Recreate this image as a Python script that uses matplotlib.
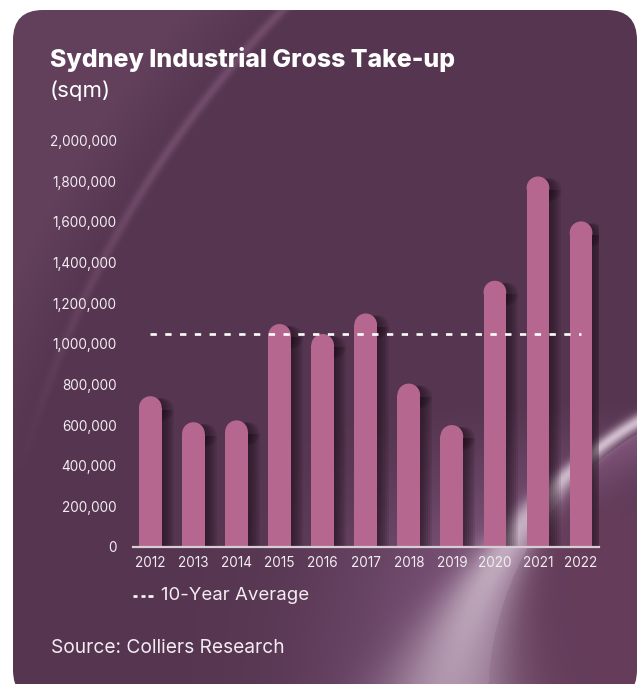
import numpy as np
import matplotlib
matplotlib.use("Agg")
import matplotlib.pyplot as plt
from matplotlib import colors as mcolors
from matplotlib import transforms
from matplotlib.patches import FancyBboxPatch, Rectangle, Ellipse
from matplotlib.lines import Line2D

plt.rcParams['font.family'] = ['Inter', 'DejaVu Sans']

# Gross take-up (sqm) by year
years = ['2012', '2013', '2014', '2015', '2016', '2017',
         '2018', '2019', '2020', '2021', '2022']
take_up = [742000, 614000, 623000, 1097000, 1048000, 1149000,
           804000, 600000, 1310000, 1823000, 1602000]
ten_year_avg = 1050000
y_ticks = [0, 200000, 400000, 600000, 800000, 1000000,
           1200000, 1400000, 1600000, 1800000, 2000000]

W, H = 637, 684
BAR_COLOR = '#b5678f'
TEXT_COLOR = '#f3ecf1'

fig = plt.figure(figsize=(W / 100, H / 100), dpi=100)
fig.patch.set_facecolor('white')


def rgb(h):
    return np.array(mcolors.to_rgb(h))


# ---- card background ----
yy, xx = np.mgrid[0:H, 0:W] + 0.5
base = rgb('#553550')
img = np.ones((H, W, 3)) * base

# soft lighter area beyond the sweeping arc on the upper left
d1 = np.hypot(xx - 1050, yy - 750) - 1066
img += np.clip(d1 / 70, 0, 1)[..., None] * (rgb('#62405b') - base)
streak = np.exp(-(d1 / 5) ** 2) * np.clip((480 - yy) / 320, 0, 1)
img += streak[..., None] * (rgb('#714b6a') - base)

# glowing ribbon at the lower right
d2 = np.hypot(xx - 800, yy - 700) - 312
t = np.clip((yy - 440) / 240, 0, 1)
sig = 7 + 52 * t ** 1.5
outside = np.clip(d2, 0, None)
halo = np.exp(-(outside / 160) ** 2) * np.clip((yy - 400) / 140, 0, 1) * (d2 > 0)
img += halo[..., None] * (rgb('#7c5479') - base)
upper = np.exp(-(np.clip(-d2, 0, None) / 40) ** 2) * np.clip((520 - yy) / 80, 0, 1) * (d2 < 0)
img += upper[..., None] * (rgb('#7a5276') - base)
inside = (d2 < 0) * np.clip((yy - 420) / 100, 0, 1)
img += inside[..., None] * (rgb('#673e5d') - base) * 0.9
beam = np.exp(-((d2 - 10 - 28 * t ** 1.5) / sig) ** 2)
beam_col = (1 - t)[..., None] * rgb('#d0bccd') + t[..., None] * rgb('#b097ad')
img = img * (1 - beam[..., None]) + beam_col * beam[..., None]
img = np.clip(img, 0, 1)

bg = fig.add_axes([0, 0, 1, 1])
bg.set_xlim(0, W)
bg.set_ylim(H, 0)
bg.axis('off')
card = FancyBboxPatch((13, 10), 624, 690, boxstyle='round,pad=0,rounding_size=30',
                      transform=bg.transData, facecolor='none', edgecolor='none')
bg.add_patch(card)
im = bg.imshow(img, extent=[0, W, H, 0], interpolation='bilinear', zorder=0)
im.set_clip_path(card)

# ---- bar chart ----
ax = fig.add_axes([132.7 / W, (H - 547) / H, 466 / W, 406.5 / H])
ax.patch.set_alpha(0)
ax.set_xlim(-0.41, 10.41)
ax.set_ylim(0, 2000000)

x = np.arange(len(years))
bar_w = 0.527

# radius of the rounded cap expressed in y units so that the cap is circular
px_per_x = ax.transData.transform((1, 0))[0] - ax.transData.transform((0, 0))[0]
px_per_y = ax.transData.transform((0, 1000000))[1] - ax.transData.transform((0, 0))[1]
r_px = bar_w / 2 * px_per_x
r_y = r_px / px_per_y * 1000000


def rounded_bar(xc, val, transform, **kw):
    rect = Rectangle((xc - bar_w / 2, 0), bar_w, val - r_y, transform=transform, **kw)
    cap = Ellipse((xc, val - r_y), bar_w, 2 * r_y, transform=transform, **kw)
    ax.add_patch(rect)
    ax.add_patch(cap)


# soft drop shadow to the right of each bar
for off in [2, 4, 6, 8, 10, 12]:
    shift = transforms.ScaledTranslation(off / 100, -2 / 100, fig.dpi_scale_trans)
    for xc, v in zip(x, take_up):
        rounded_bar(xc, v, ax.transData + shift, facecolor='#1e0f1a',
                    edgecolor='none', alpha=0.13, zorder=1)

for xc, v in zip(x, take_up):
    rounded_bar(xc, v, ax.transData, facecolor=BAR_COLOR, edgecolor='none', zorder=2)

ax.plot([0, 10], [ten_year_avg, ten_year_avg], color='white', lw=1.9,
        linestyle=(0, (2.4, 3.2)), zorder=3, dash_capstyle='butt')

ax.set_xticks(x)
ax.set_xticklabels(years)
ax.set_yticks(y_ticks)
ax.set_yticklabels([f'{v:,}' for v in y_ticks])
ax.tick_params(axis='both', length=0, colors=TEXT_COLOR, labelsize=9.8)
ax.tick_params(axis='y', pad=11.5)
ax.tick_params(axis='x', pad=6.5)
for s in ['top', 'right', 'left']:
    ax.spines[s].set_visible(False)
ax.spines['bottom'].set_color('#d8ccd5')
ax.spines['bottom'].set_linewidth(1.6)
ax.spines['bottom'].set_zorder(4)

# ---- titles, legend and source ----
fig.text(50 / W, 1 - 67 / H, 'Sydney Industrial Gross Take-up', color='white',
         fontsize=17.9, fontweight='heavy', va='baseline', ha='left')
fig.text(50 / W, 1 - 97 / H, '(sqm)', color='white', fontsize=16,
         va='baseline', ha='left')

for x0 in [132.7, 140.5, 148.3]:
    fig.add_artist(Line2D([x0 / W, (x0 + 4.2) / W], [1 - 596 / H, 1 - 596 / H],
                          color='white', lw=1.9, solid_capstyle='butt'))
fig.text(160.7 / W, 1 - 596 / H, '10-Year Average', color=TEXT_COLOR,
         fontsize=13.4, va='center', ha='left')

fig.text(51 / W, 1 - 648 / H, 'Source: Colliers Research', color=TEXT_COLOR,
         fontsize=13.8, va='center', ha='left')

fig.savefig('out.png', dpi=100, facecolor='white')
